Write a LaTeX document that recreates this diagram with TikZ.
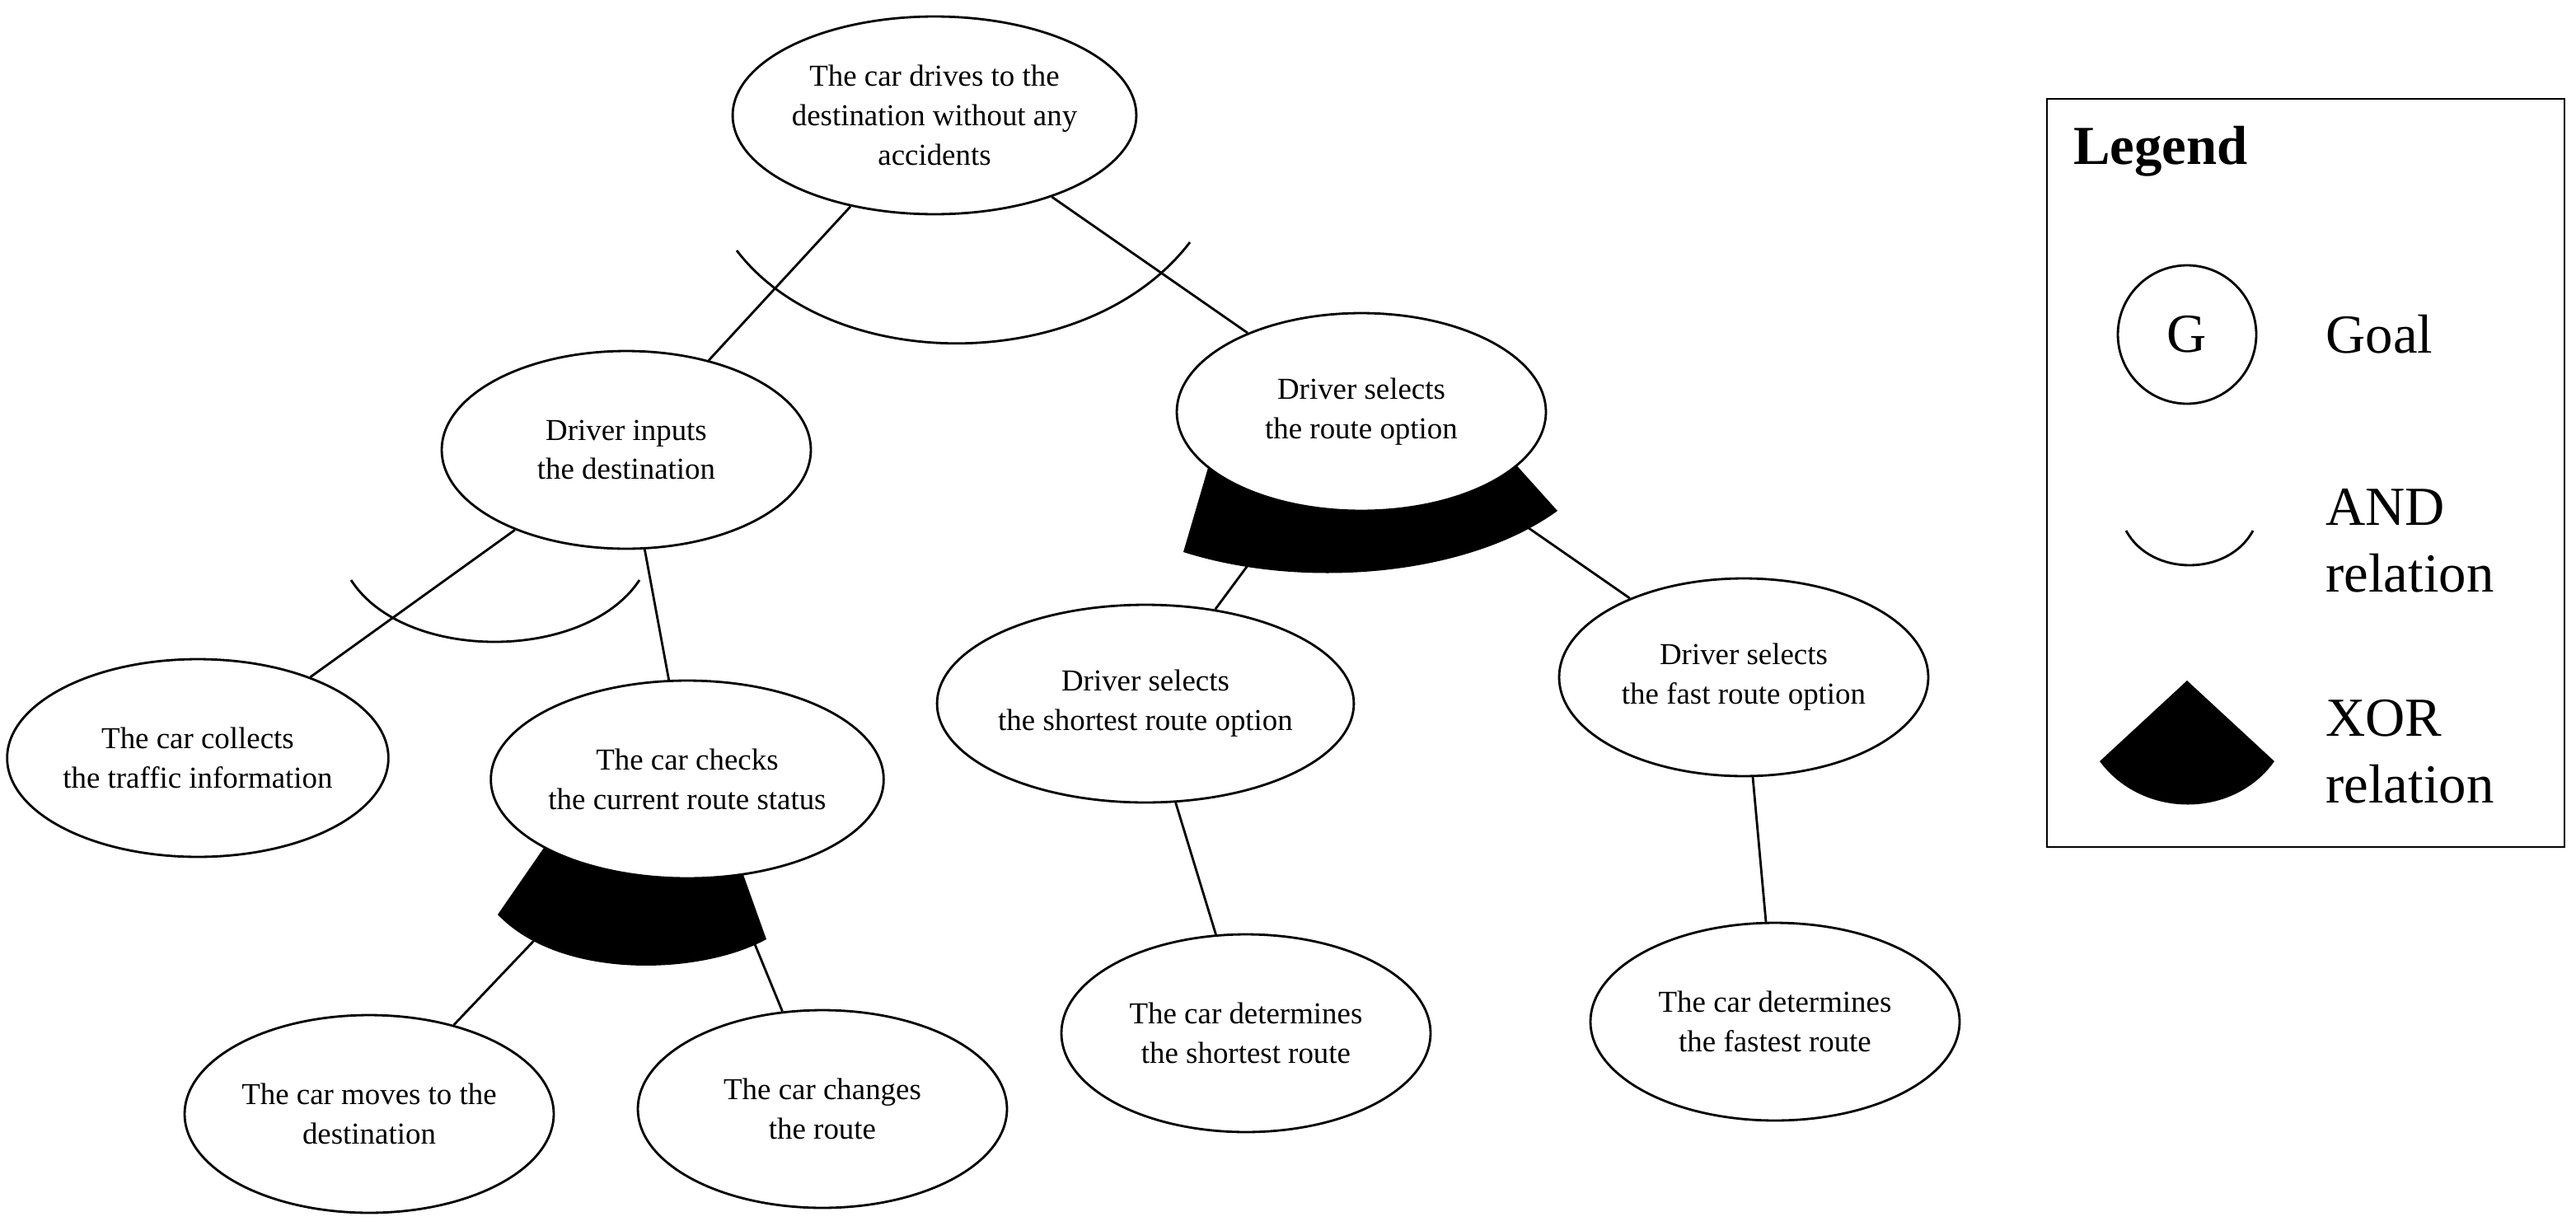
\documentclass[tikz,border=0pt]{standalone}
\usepackage{fontspec}
\setmainfont{Liberation Serif}
\usetikzlibrary{shapes,backgrounds}
\tikzstyle{goal}=[ellipse,draw,thick,fill=white,minimum width=4.48cm,minimum height=2.4cm,inner sep=0pt,align=center,font=\fontsize{10.5}{13.6}\selectfont]
\tikzstyle{edge} = [draw,thick,-]
\tikzstyle{xor} = [fill=black]
\tikzstyle{legend text} = [anchor=west,align=left,font=\fontsize{19}{23}\selectfont]

\begin{document}
\begin{tikzpicture}[x=0.02cm,y=-0.02cm]
        \useasboundingbox (0,0) rectangle (1563,744);
        \node[goal] (top) at (567,70) {The car drives to the\\destination without any\\accidents};
        \node[goal] (input) at (380,273) {Driver inputs\\the destination};
        \node[goal] (route) at (826,250) {Driver selects\\the route option};
        \node[goal] (collect) at (120,460) {The car collects\\the traffic information};
        \node[goal] (check) at (417,473) {The car checks\\the current route status};
        \node[goal] (short) at (695,427) {Driver selects\\the shortest route option};
        \node[goal] (fast) at (1058,411) {Driver selects\\the fast route option};
        \node[goal] (move) at (224,676) {The car moves to the\\destination};
        \node[goal] (change) at (499,673) {The car changes\\the route};
        \node[goal] (detshort) at (756,627) {The car determines\\the shortest route};
        \node[goal] (detfast) at (1077,620) {The car determines\\the fastest route};
        \draw[edge] (top) to (input);
        \draw[edge] (top) to (route);
        \draw[edge] (input) to (collect);
        \draw[edge] (input) to (check);
        \draw[edge] (route) to (short);
        \draw[edge] (route) to (fast);
        \draw[edge] (check) to (move);
        \draw[edge] (check) to (change);
        \draw[edge] (short) to (detshort);
        \draw[edge] (fast) to (detfast);
        % AND relations
        \draw[thick] (447,152) .. controls (505,228) and (660,228) .. (722,147);
        \draw[thick] (213,352) .. controls (245,402) and (355,402) .. (388,352);
        % XOR relations
        \begin{pgfonlayer}{background}
          \fill[xor] (718,335) .. controls (790,358) and (890,350) .. (945,310) -- (900,260) -- (740,260) -- cycle;
          \fill[xor] (302,555) .. controls (340,595) and (425,592) .. (465,570) -- (440,500) -- (340,500) -- cycle;
        \end{pgfonlayer}
        % legend
        \draw[thick] (1242,60) rectangle (1556,514);
        \node[anchor=west,font=\fontsize{19}{23}\selectfont\bfseries] (legend) at (1252,92) {Legend};
        \node[circle,draw,thick,minimum size=1.68cm,inner sep=0pt,font=\fontsize{19}{23}\selectfont] (g) at (1327,203) {G};
        \node[legend text] (goaltext) at (1405,203) {Goal};
        \draw[thick] (1290,322) .. controls (1305,350) and (1352,350) .. (1367,322);
        \node[legend text] (andtext) at (1405,328) {AND\\relation};
        \fill[xor] (1327,413) -- (1274,462) .. controls (1300,497) and (1355,497) .. (1380,462) -- cycle;
        \node[legend text] (xortext) at (1405,456) {XOR\\relation};
\end{tikzpicture}
\end{document}
